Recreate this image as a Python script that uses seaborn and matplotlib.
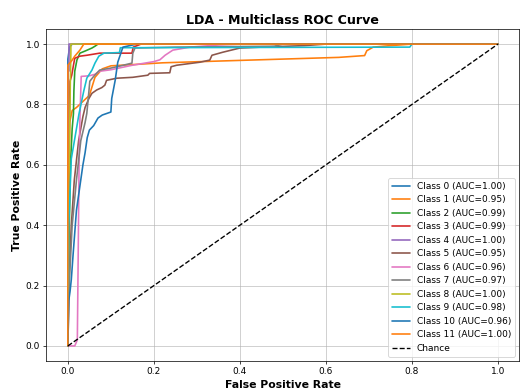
import numpy as np
import matplotlib
matplotlib.use("Agg")
import matplotlib.pyplot as plt
import seaborn as sns

# ROC operating points (false positive rate / true positive rate) per class
fpr_0 = [0.0, 0.0, 0.004, 0.01, 1.0]
tpr_0 = [0.0, 0.95, 0.99, 1.0, 1.0]

fpr_1 = [0.0, 0.0, 0.002, 0.004, 0.01, 0.02, 0.05, 0.063, 0.074, 0.08, 0.1, 0.15,
         0.22, 0.4, 0.63, 0.69, 0.695, 0.71, 0.75, 0.8, 1.0]
tpr_1 = [0.0, 0.3, 0.6, 0.74, 0.78, 0.79, 0.83, 0.89, 0.908, 0.918, 0.928, 0.932,
         0.938, 0.946, 0.956, 0.962, 0.978, 0.99, 0.995, 1.0, 1.0]

fpr_2 = [0.0, 0.002, 0.006, 0.01, 0.013, 0.014, 0.016, 0.021, 0.028, 0.04, 0.056,
         0.063, 0.07, 1.0]
tpr_2 = [0.0, 0.3, 0.6, 0.72, 0.77, 0.845, 0.91, 0.947, 0.97, 0.977, 0.987,
         0.993, 1.0, 1.0]

fpr_3 = [0.0, 0.001, 0.003, 0.004, 0.005, 0.009, 0.013, 0.016, 0.028, 0.044, 0.074,
         0.149, 0.152, 0.17, 1.0]
tpr_3 = [0.0, 0.3, 0.6, 0.8, 0.877, 0.897, 0.93, 0.953, 0.96, 0.963, 0.97,
         0.97, 0.99, 1.0, 1.0]

fpr_4 = [0.0, 0.0, 0.0015, 0.0015, 1.0]
tpr_4 = [0.0, 0.91, 0.91, 1.0, 1.0]

fpr_5 = [0.0, 0.002, 0.008, 0.015, 0.025, 0.035, 0.04, 0.049, 0.056, 0.067, 0.079,
         0.086, 0.09, 0.114, 0.151, 0.186, 0.19, 0.237, 0.24, 0.253, 0.307, 0.33,
         0.335, 0.36, 0.4, 0.45, 0.55, 0.6, 1.0]
tpr_5 = [0.0, 0.2, 0.4, 0.55, 0.68, 0.76, 0.79, 0.82, 0.837, 0.848, 0.856,
         0.864, 0.88, 0.887, 0.89, 0.897, 0.903, 0.905, 0.925, 0.93, 0.94, 0.947,
         0.963, 0.973, 0.987, 0.99, 0.995, 1.0, 1.0]

fpr_6 = [0.0, 0.016, 0.022, 0.024, 0.026, 0.028, 0.031, 0.05, 0.063, 0.074, 0.1,
         0.15, 0.2, 0.214, 0.226, 0.244, 0.284, 0.35, 0.4, 1.0]
tpr_6 = [0.0, 0.0, 0.02, 0.3, 0.6, 0.75, 0.893, 0.895, 0.9, 0.91, 0.915,
         0.93, 0.942, 0.948, 0.963, 0.98, 0.99, 0.997, 1.0, 1.0]

fpr_7 = [0.0, 0.003, 0.01, 0.02, 0.03, 0.04, 0.044, 0.049, 0.051, 0.06, 0.074,
         0.098, 0.12, 0.149, 0.151, 0.156, 0.25, 0.48, 0.5, 1.0]
tpr_7 = [0.0, 0.2, 0.4, 0.55, 0.68, 0.74, 0.77, 0.845, 0.877, 0.893, 0.914,
         0.92, 0.927, 0.937, 0.97, 0.987, 0.99, 0.993, 1.0, 1.0]

fpr_8 = [0.0, 0.002, 0.006, 0.007, 0.007, 1.0]
tpr_8 = [0.0, 0.5, 0.9, 0.97, 1.0, 1.0]

fpr_9 = [0.0, 0.002, 0.008, 0.02, 0.026, 0.037, 0.044, 0.056, 0.063, 0.072, 0.084,
         0.12, 0.122, 0.795, 0.8, 1.0]
tpr_9 = [0.0, 0.4, 0.62, 0.72, 0.77, 0.845, 0.887, 0.914, 0.937, 0.96, 0.97,
         0.972, 0.988, 0.99, 1.0, 1.0]

fpr_10 = [0.0, 0.002, 0.005, 0.008, 0.012, 0.02, 0.03, 0.035, 0.04, 0.045, 0.05,
          0.06, 0.07, 0.08, 0.09, 0.1, 0.102, 0.11, 0.116, 0.128, 0.16, 1.0]
tpr_10 = [0.0, 0.15, 0.18, 0.22, 0.3, 0.45, 0.55, 0.6, 0.64, 0.69, 0.715,
          0.73, 0.755, 0.765, 0.77, 0.775, 0.82, 0.88, 0.94, 0.99, 1.0, 1.0]

fpr_11 = [0.0, 0.0, 0.009, 0.016, 0.028, 0.037, 1.0]
tpr_11 = [0.0, 0.93, 0.945, 0.96, 0.98, 1.0, 1.0]

fpr_list = [fpr_0, fpr_1, fpr_2, fpr_3, fpr_4, fpr_5, fpr_6, fpr_7, fpr_8, fpr_9,
            fpr_10, fpr_11]
tpr_list = [tpr_0, tpr_1, tpr_2, tpr_3, tpr_4, tpr_5, tpr_6, tpr_7, tpr_8, tpr_9,
            tpr_10, tpr_11]
class_names = [f"Class {i}" for i in range(12)]

sns.set_style("ticks")
plt.rcParams.update({"text.color": "black", "axes.labelcolor": "black",
                     "xtick.color": "black", "ytick.color": "black",
                     "axes.edgecolor": "black"})

fig = plt.figure(figsize=(521 / 65, 392 / 65), dpi=65)
ax = fig.add_axes([0.089, 0.079, 0.908, 0.847])

palette = sns.color_palette("tab10", 10)
for i, (name, fpr, tpr) in enumerate(zip(class_names, fpr_list, tpr_list)):
    fpr = np.asarray(fpr)
    tpr = np.asarray(tpr)
    auc = np.trapezoid(tpr, fpr)
    sns.lineplot(x=fpr, y=tpr, ax=ax, estimator=None, sort=False,
                 color=palette[i % 10], linewidth=1.8,
                 label=f"{name} (AUC={auc:.2f})")

ax.plot([0, 1], [0, 1], "k--", linewidth=1.5, label="Chance")

ax.set_xlim(-0.05, 1.05)
ax.set_ylim(-0.05, 1.05)
ax.set_xticks([0.0, 0.2, 0.4, 0.6, 0.8, 1.0])
ax.set_yticks([0.0, 0.2, 0.4, 0.6, 0.8, 1.0])
ax.grid(True, color="#b0b0b0", linewidth=0.8, alpha=0.8)
ax.set_title("LDA - Multiclass ROC Curve", fontsize=14, fontweight="bold")
ax.set_xlabel("False Positive Rate", fontsize=12, fontweight="bold")
ax.set_ylabel("True Positive Rate", fontsize=12, fontweight="bold")
ax.legend(loc="lower right", fontsize=10)

fig.savefig("out.png", dpi=65)
